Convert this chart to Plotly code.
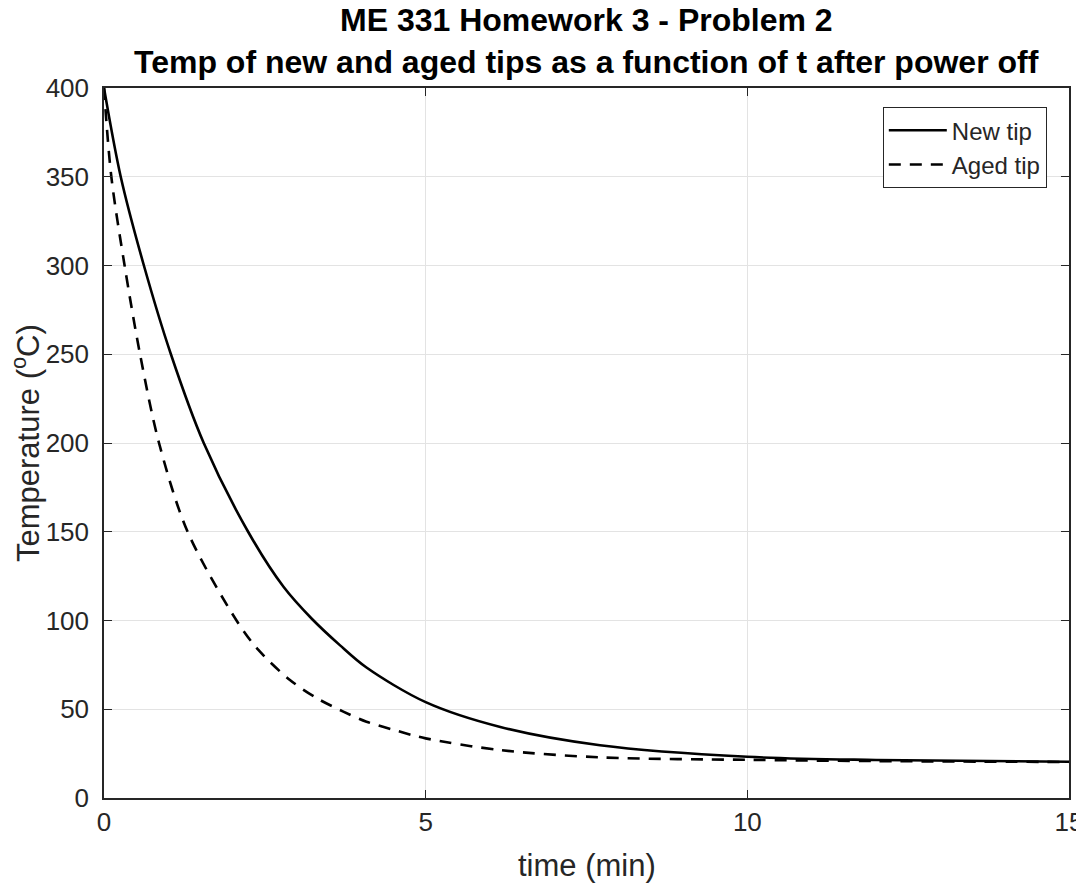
import plotly.graph_objects as go

# Data
t_new = [0, 0.26, 0.62, 1.04, 1.55, 2.24, 2.79, 3.23, 3.67, 4.08, 5.0, 6.16, 7.71, 10.0, 12.0, 15.0]
T_new = [400, 350, 300, 250, 200, 150, 119, 101, 86, 73.5, 54, 40, 29.7, 23.2, 21.4, 20.4]

t_aged = [0, 0.114, 0.32, 0.56, 0.855, 1.3, 2.06, 2.4, 2.89, 3.31, 3.72, 4.08, 4.55, 5.0, 6.16, 7.71, 10.0, 12.0, 15.0]
T_aged = [400, 350, 300, 250, 200, 150, 100, 83.4, 66.5, 56.2, 48.7, 43, 37.9, 33.6, 27, 22.9, 21.5, 20.8, 20.3]

x_ticks = [0, 5, 10, 15]
y_ticks = [0, 50, 100, 150, 200, 250, 300, 350, 400]

title_line1 = "ME 331 Homework 3 - Problem 2"
title_line2 = "Temp of new and aged tips as a function of t after power off"
x_label = "time (min)"
y_label = "Temperature (<sup>o</sup>C)"

FONT = "Liberation Sans, Arial, Helvetica, sans-serif"

fig = go.Figure()
fig.add_trace(go.Scatter(x=t_new, y=T_new, mode="lines", name="New tip",
                         line=dict(color="black", width=2.6, shape="spline", smoothing=0.9)))
fig.add_trace(go.Scatter(x=t_aged, y=T_aged, mode="lines", name="Aged tip",
                         line=dict(color="black", width=2.6, dash="12px,9px", shape="spline", smoothing=0.9)))

tick_font = dict(family=FONT, size=26, color="#262626")
label_font = dict(family=FONT, size=31, color="#262626")

# page body has an 8px margin; figure sized/offset to compensate
W, H = 1076, 880
L, T, R, B = 96, 80, 15, 90
plot_h = H - T - B
plot_w = W - L - R

def py(fig_y):
    return (H - B - fig_y) / plot_h

def px(fig_x):
    return (fig_x - L) / plot_w

fig.update_layout(
    width=W, height=H,
    margin=dict(l=L, r=R, t=T, b=B, autoexpand=False),
    paper_bgcolor="white", plot_bgcolor="white",
    xaxis=dict(range=[0, 15], tickvals=x_ticks, showgrid=True, gridcolor="#e3e3e3", gridwidth=1,
               zeroline=False, showline=True, linecolor="#262626", linewidth=1.5, mirror="ticks",
               ticks="inside", ticklen=8, tickcolor="#262626", tickfont=tick_font, automargin=False,
               ticklabeloverflow="allow"),
    yaxis=dict(range=[0, 400], tickvals=y_ticks, showgrid=True, gridcolor="#e3e3e3", gridwidth=1,
               zeroline=False, showline=True, linecolor="#262626", linewidth=1.5, mirror="ticks",
               ticks="inside", ticklen=8, tickcolor="#262626", tickfont=tick_font, automargin=False,
               ticklabelstandoff=8, ticklabeloverflow="allow"),
    legend=dict(x=0.977, y=0.973, xanchor="right", yanchor="top", bgcolor="white",
                bordercolor="#262626", borderwidth=1,
                font=dict(family=FONT, size=24, color="#262626"),
                tracegroupgap=0, itemwidth=58),
    showlegend=True,
    annotations=[
        dict(text="<b>" + title_line1 + "</b>", xref="paper", yref="paper", x=0.5, y=py(12),
             xanchor="center", yanchor="middle", showarrow=False,
             font=dict(family=FONT, size=32, color="black")),
        dict(text="<b>" + title_line2 + "</b>", xref="paper", yref="paper", x=0.5, y=py(54),
             xanchor="center", yanchor="middle", showarrow=False,
             font=dict(family=FONT, size=32, color="black")),
        dict(text=y_label, xref="paper", yref="paper", x=px(18), y=0.5, textangle=-90,
             xanchor="center", yanchor="middle", showarrow=False, font=label_font),
        dict(text=x_label, xref="paper", yref="paper", x=0.5, y=py(857),
             xanchor="center", yanchor="middle", showarrow=False, font=label_font),
    ],
)

fig.write_html("out.html")
